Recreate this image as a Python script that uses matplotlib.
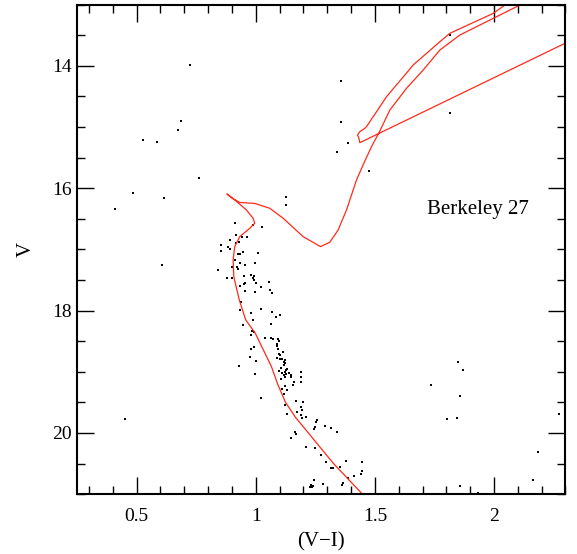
import numpy as np
import matplotlib.pyplot as plt
from matplotlib.ticker import MultipleLocator

# estrellas del campo de Berkeley 27: color (V-I) y magnitud V
vi = [0.726, 0.687, 0.672, 0.528, 0.584, 0.761, 0.486, 0.616, 0.410, 0.605,
      0.450, 1.357, 1.360, 1.387, 1.342, 1.475, 1.814, 1.816, 1.125, 1.129,
      1.850, 1.868, 1.735, 1.858, 1.803, 1.843, 2.273, 2.186, 2.165, 1.858,
      1.932,
      0.915, 0.989, 1.026, 0.919, 0.892, 0.942, 0.963, 0.917, 0.929, 0.856,
      0.882, 0.892, 0.854, 0.948, 0.924, 0.932, 1.010, 0.912, 0.933, 0.999,
      0.957, 0.900, 0.921, 0.924, 0.842, 0.950, 0.982, 0.992, 0.989, 0.881,
      0.899, 0.993, 1.003, 0.957, 0.950, 0.936, 1.055, 1.024, 1.062, 0.953,
      1.070, 0.996, 0.940,
      0.932, 0.979, 1.024, 1.070, 1.102, 1.084, 0.987, 1.063, 0.948, 0.984,
      0.992, 0.982, 1.039, 1.064, 1.073, 1.094, 1.097, 1.088, 1.091, 0.994,
      0.980, 1.095, 1.116, 1.097, 1.102, 0.975, 1.091, 1.101, 1.110, 1.124,
      1.001, 1.118, 1.123, 1.119, 0.930, 1.108, 1.130, 1.133, 1.125, 1.097,
      1.109, 1.123, 1.141, 1.118, 1.129, 1.148, 1.150, 1.121, 1.106, 1.192,
      1.192, 0.997, 1.160, 1.190, 1.157, 1.121, 1.112, 1.130, 1.118, 1.024,
      1.123, 1.131, 1.171, 1.200, 1.188, 1.193, 1.175, 1.190, 1.213, 1.196,
      1.256, 1.253, 1.247, 1.244, 1.291, 1.316, 1.342, 1.164, 1.168, 1.148,
      1.213, 1.249, 1.272, 1.379, 1.445, 1.295, 1.315, 1.324, 1.353, 1.448,
      1.441, 1.413, 1.388, 1.245, 1.284, 1.368, 1.363, 1.231, 1.235, 1.226,
      1.242]
vmag = [13.985, 14.900, 15.047, 15.211, 15.243, 15.832, 16.082, 16.163, 16.343, 17.253,
        19.770, 14.252, 14.912, 15.255, 15.402, 15.712, 13.500, 14.775, 16.142, 16.273,
        18.843, 18.974, 19.209, 19.399, 19.765, 19.753, 19.683, 20.304, 20.761, 20.869,
        20.979,
        16.572, 16.595, 16.627, 16.763, 16.845, 16.791, 16.801, 16.889, 16.882, 16.926,
        16.954, 16.987, 17.020, 17.041, 17.069, 17.069, 17.062, 17.172, 17.225, 17.225,
        17.258, 17.281, 17.291, 17.314, 17.335, 17.433, 17.417, 17.428, 17.461, 17.471,
        17.461, 17.498, 17.542, 17.542, 17.564, 17.596, 17.531, 17.608, 17.662, 17.673,
        17.711, 17.699, 17.858,
        17.989, 18.033, 17.977, 18.016, 18.075, 18.108, 18.152, 18.222, 18.239, 18.337,
        18.348, 18.397, 18.451, 18.446, 18.467, 18.467, 18.490, 18.549, 18.577, 18.588,
        18.630, 18.626, 18.675, 18.712, 18.729, 18.761, 18.778, 18.794, 18.794, 18.814,
        18.827, 18.838, 18.850, 18.892, 18.904, 18.931, 18.948, 18.961, 18.964, 18.980,
        19.018, 19.007, 19.023, 19.051, 19.034, 19.051, 19.078, 19.083, 19.116, 18.997,
        19.088, 19.034, 19.170, 19.170, 19.214, 19.230, 19.284, 19.291, 19.358, 19.421,
        19.541, 19.693, 19.475, 19.492, 19.578, 19.627, 19.660, 19.704, 19.742, 19.748,
        19.791, 19.824, 19.900, 19.928, 19.879, 19.912, 19.982, 19.982, 20.010, 20.085,
        20.222, 20.243, 20.363, 20.451, 20.472, 20.472, 20.570, 20.570, 20.549, 20.614,
        20.668, 20.706, 20.739, 20.771, 20.827, 20.815, 20.853, 20.848, 20.889, 20.881,
        20.865]

# isocrona (secuencia principal -> rama gigante -> rama horizontal -> AGB)
iso_vi = [1.506, 1.444, 1.325, 1.227, 1.168, 1.125, 1.092, 1.066, 0.998, 0.958,
          0.931, 0.916, 0.908, 0.905, 0.912, 0.933, 0.975, 0.996, 0.989, 0.961,
          0.912, 0.879, 0.903, 0.933, 0.996, 1.059, 1.115, 1.199, 1.272, 1.311,
          1.346, 1.381, 1.423, 1.455, 1.486, 1.521, 1.563, 1.633, 1.703, 1.773,
          1.857, 2.109, 2.193, 3.000, 1.437, 1.432, 1.427, 1.437, 1.458, 1.465,
          1.521, 1.549, 1.626, 1.661, 1.773, 1.815, 1.997, 2.046, 2.109]
iso_v = [21.257, 20.984, 20.493, 20.028, 19.750, 19.500, 19.200, 18.915, 18.369, 18.152,
         17.825, 17.580, 17.444, 17.172, 16.954, 16.791, 16.654, 16.572, 16.490, 16.355,
         16.191, 16.093, 16.167, 16.232, 16.248, 16.327, 16.490, 16.791, 16.954, 16.882,
         16.681, 16.355, 15.864, 15.580, 15.320, 15.064, 14.721, 14.366, 14.067, 13.740,
         13.495, 13.005, 12.840, 12.307, 15.255, 15.167, 15.129, 15.075, 15.020, 14.993,
         14.667, 14.503, 14.149, 13.985, 13.605, 13.467, 13.141, 13.005, 12.880]

plt.rcParams['font.family'] = ['Liberation Serif', 'DejaVu Serif']

fig = plt.figure(figsize=(5.77, 5.54), dpi=100)
ax = fig.add_axes([0.1335, 0.108, 0.8465, 0.8835])

ax.plot(iso_vi, iso_v, color='#ff2a1a', lw=0.9)
ax.scatter(vi, vmag, s=4.5, color='black', marker='s', linewidths=0)

ax.text(1.933, 16.34, 'Berkeley 27', fontsize=15, ha='center', va='center')

ax.set_xlim(0.25, 2.3)
ax.set_ylim(21, 13)
ax.xaxis.set_major_locator(MultipleLocator(0.5))
ax.xaxis.set_minor_locator(MultipleLocator(0.1))
ax.yaxis.set_major_locator(MultipleLocator(2))
ax.yaxis.set_minor_locator(MultipleLocator(0.5))
ax.set_xticks([0.5, 1, 1.5, 2])
ax.set_xticklabels(['0.5', '1', '1.5', '2'])
ax.tick_params(which='both', direction='in', top=True, right=True, labelsize=14)
ax.tick_params(which='major', length=12, width=1)
ax.tick_params(which='minor', length=6, width=1)
ax.tick_params(axis='x', pad=10)
for s in ax.spines.values():
    s.set_linewidth(1.5)

ax.set_xlabel('(V\u2212I)', fontsize=15, labelpad=5)
ax.set_ylabel('V', fontsize=15, labelpad=12)

fig.savefig('out.png', dpi=100)
